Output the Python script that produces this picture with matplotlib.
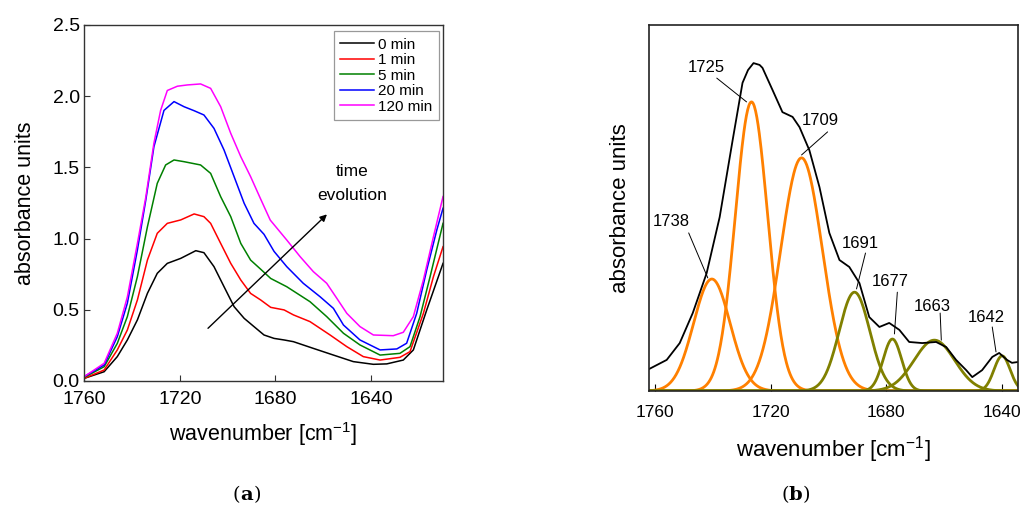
import numpy as np
import matplotlib
matplotlib.use("Agg")
import matplotlib.pyplot as plt

plt.rcParams['font.family'] = ['Liberation Sans', 'DejaVu Sans']
plt.rcParams['mathtext.default'] = 'regular'

# ---------------- panel (a) data ----------------
wn_0min = [1760, 1751.6, 1746.1, 1741.9, 1737.7, 1733.5, 1729.4, 1725.2, 1719.6, 1713.3,
           1709.9, 1705.7, 1701.5, 1697.3, 1693.1, 1689, 1684.8, 1680.6, 1676.4, 1672.5,
           1664.2, 1655.8, 1647.5, 1639.1, 1633.5, 1626.6, 1622.4, 1616.8, 1610]
abs_0min = [0.018, 0.065, 0.171, 0.288, 0.429, 0.616, 0.756, 0.826, 0.861, 0.915,
            0.901, 0.803, 0.662, 0.522, 0.44, 0.382, 0.323, 0.299, 0.288, 0.276,
            0.229, 0.182, 0.136, 0.117, 0.12, 0.147, 0.218, 0.499, 0.826]
wn_1min = [1760, 1751.6, 1746.1, 1741.9, 1737.7, 1733.5, 1729.4, 1725.2, 1719.6, 1714,
           1709.9, 1707.1, 1702.9, 1698.7, 1694.5, 1690.4, 1686.2, 1682, 1676.4, 1672.5,
           1665.6, 1657.2, 1650.2, 1643.3, 1636.3, 1628, 1623.8, 1618.2, 1614, 1610]
abs_1min = [0.018, 0.077, 0.218, 0.358, 0.569, 0.85, 1.037, 1.107, 1.131, 1.173,
            1.154, 1.107, 0.966, 0.826, 0.709, 0.615, 0.569, 0.517, 0.499, 0.464,
            0.417, 0.323, 0.241, 0.171, 0.147, 0.166, 0.206, 0.475, 0.733, 0.943]
wn_5min = [1760, 1751.6, 1746.1, 1741.9, 1737.7, 1733.5, 1729.4, 1725.9, 1722.4, 1718.2,
           1711.3, 1707.1, 1702.9, 1698.7, 1694.5, 1690.4, 1686.2, 1682, 1675.3, 1665.6,
           1658.6, 1651.6, 1644.7, 1636.3, 1628, 1623.8, 1619.6, 1615.4, 1610]
abs_5min = [0.025, 0.1, 0.264, 0.452, 0.733, 1.084, 1.388, 1.517, 1.552, 1.54,
            1.517, 1.458, 1.294, 1.154, 0.966, 0.849, 0.785, 0.72, 0.662, 0.557,
            0.452, 0.335, 0.253, 0.182, 0.194, 0.241, 0.452, 0.733, 1.107]
wn_20min = [1760, 1751.6, 1746.1, 1741.9, 1737.7, 1734.2, 1730.8, 1726.6, 1722.4, 1718.2,
            1714, 1709.9, 1705.7, 1701.5, 1697.3, 1693.1, 1689, 1684.8, 1680.6, 1675.3,
            1668.4, 1661.4, 1655.8, 1651.6, 1644.7, 1636.3, 1629.3, 1625.2, 1621, 1616.8,
            1612.6, 1610]
abs_20min = [0.03, 0.112, 0.311, 0.546, 0.92, 1.27, 1.645, 1.90, 1.962, 1.926,
             1.898, 1.868, 1.774, 1.622, 1.435, 1.248, 1.107, 1.03, 0.91, 0.803,
             0.686, 0.592, 0.51, 0.393, 0.288, 0.218, 0.225, 0.265, 0.475, 0.78,
             1.06, 1.213]
wn_120min = [1760, 1751.6, 1746.1, 1741.9, 1737.7, 1734.2, 1730.8, 1728, 1725.2, 1721,
             1716.8, 1711.3, 1707.1, 1702.9, 1698.7, 1694.5, 1690.4, 1686.4, 1682.2, 1675.3,
             1669.7, 1664.2, 1658.6, 1654.4, 1650.2, 1644.7, 1639.1, 1630.8, 1626.6, 1622.4,
             1618.2, 1614, 1610]
abs_120min = [0.03, 0.124, 0.335, 0.59, 0.966, 1.29, 1.67, 1.90, 2.04, 2.07,
              2.079, 2.086, 2.055, 1.926, 1.739, 1.575, 1.435, 1.285, 1.13, 0.99,
              0.873, 0.768, 0.686, 0.581, 0.475, 0.382, 0.323, 0.318, 0.342, 0.452,
              0.71, 1.013, 1.295]
series_labels = ['0 min', '1 min', '5 min', '20 min', '120 min']
series_colors = ['black', 'red', 'green', 'blue', 'magenta']

# ---------------- panel (b) data ----------------
wn_b = [1762, 1755.9, 1751.4, 1746.9, 1742.1, 1737.6, 1733.1, 1729.7, 1727.8, 1725.9,
        1723.8, 1722.8, 1719.3, 1715.9, 1712.4, 1710, 1706.6, 1703.1, 1699.7, 1696.2,
        1692.8, 1689.3, 1685.9, 1682.4, 1679, 1675.5, 1672.1, 1667.6, 1662.8,
        1659.3, 1655.9, 1652.4, 1650.3, 1646.9, 1643.4, 1641, 1638.3, 1636.6, 1634.8]
envelope = [0.060, 0.085, 0.131, 0.213, 0.322, 0.475, 0.686, 0.842, 0.877, 0.896,
            0.891, 0.883, 0.822, 0.762, 0.749, 0.721, 0.658, 0.557, 0.432, 0.358,
            0.339, 0.295, 0.202, 0.175, 0.186, 0.167, 0.134, 0.131, 0.134,
            0.120, 0.085, 0.057, 0.038, 0.057, 0.093, 0.104, 0.085, 0.077, 0.079]
peak_labels = ['1738', '1725', '1709', '1691', '1677', '1663', '1642']
peak_centers = [1740.3, 1726.6, 1709.3, 1691.0, 1677.9, 1663.4, 1640.0]
peak_heights = [0.306, 0.790, 0.637, 0.270, 0.142, 0.139, 0.096]
peak_sigmas = [6.3, 5.6, 7.2, 5.3, 3.2, 7.0, 2.8]
peak_colors = ['#FF8000', '#FF8000', '#FF8000', '#808000', '#808000', '#808000', '#808000']
label_text_xy = [(1754.5, 0.462), (1742.1, 0.883), (1702.8, 0.738), (1689.0, 0.402),
                 (1678.6, 0.298), (1664.1, 0.232), (1645.5, 0.202)]
leader_start = [(1748.3, 0.432), (1738.6, 0.855), (1700.3, 0.708), (1687.2, 0.377),
                (1676.2, 0.270), (1661.4, 0.213), (1643.4, 0.175)]
leader_end = [(1741.7, 0.309), (1728.3, 0.790), (1709.3, 0.645), (1690.3, 0.279),
              (1677.2, 0.156), (1661.0, 0.139), (1642.1, 0.107)]

fig = plt.figure(figsize=(10.26, 5.12), dpi=100)

# ---------------- panel (a) ----------------
ax1 = fig.add_axes([0.0819, 0.2559, 0.3499, 0.6953])
for wn, vals, lab, col in zip([wn_0min, wn_1min, wn_5min, wn_20min, wn_120min],
                              [abs_0min, abs_1min, abs_5min, abs_20min, abs_120min],
                              series_labels, series_colors):
    ax1.plot(wn, vals, color=col, lw=1.1, label=lab, solid_joinstyle='round')
ax1.set_xlim(1760, 1610)
ax1.set_ylim(0, 2.5)
ax1.set_xticks([1760, 1720, 1680, 1640])
ax1.set_yticks([0.0, 0.5, 1.0, 1.5, 2.0, 2.5])
ax1.set_yticklabels(['0.0', '0.5', '1.0', '1.5', '2.0', '2.5'])
ax1.tick_params(direction='in', length=4, labelsize=14, color='#333333')
ax1.tick_params(axis='x', pad=7)
ax1.tick_params(axis='y', pad=3)
for s in ax1.spines.values():
    s.set_color('#333333')
    s.set_linewidth(1.0)
ax1.set_xlabel('wavenumber [cm$^{-1}$]', fontsize=15.5, labelpad=9)
ax1.set_ylabel('absorbance units', fontsize=15.5, labelpad=12)
leg = ax1.legend(loc='upper right', bbox_to_anchor=(0.988, 0.982), fontsize=11,
                 handlelength=2.2, handletextpad=0.3, labelspacing=0.1,
                 borderpad=0.4, fancybox=False, framealpha=1, edgecolor='#999999',
                 borderaxespad=0.0)
leg.get_frame().set_linewidth(0.9)
ax1.annotate('', xy=(1658.5, 1.17), xytext=(1708.2, 0.37),
             arrowprops=dict(arrowstyle='-|>', color='black', lw=1.0,
                             mutation_scale=10, shrinkA=0, shrinkB=0))
ax1.text(1648, 1.47, 'time', ha='center', va='center', fontsize=12.5)
ax1.text(1648, 1.30, 'evolution', ha='center', va='center', fontsize=12.5)

# ---------------- panel (b) ----------------
ax2 = fig.add_axes([0.6326, 0.2363, 0.3596, 0.7148])
xg = np.linspace(1762, 1634.5, 600)
for c, h, s, col in zip(peak_centers, peak_heights, peak_sigmas, peak_colors):
    ax2.plot(xg, h * np.exp(-0.5 * ((xg - c) / s) ** 2), color=col, lw=2.0)
ax2.plot(wn_b, envelope, color='black', lw=1.3, solid_joinstyle='round')
for lab, txy, ls, le in zip(peak_labels, label_text_xy, leader_start, leader_end):
    ax2.text(txy[0], txy[1], lab, ha='center', va='center', fontsize=12)
    ax2.annotate('', xy=le, xytext=ls,
                 arrowprops=dict(arrowstyle='-', color='black', lw=0.7,
                                 shrinkA=0, shrinkB=0))
ax2.set_xlim(1762, 1634.5)
ax2.set_ylim(0, 1)
ax2.set_xticks([1760, 1720, 1680, 1640])
ax2.set_yticks([])
ax2.tick_params(axis='x', direction='in', length=5, labelsize=12.5, pad=10)
for s in ax2.spines.values():
    s.set_color('#222222')
    s.set_linewidth(1.2)
ax2.set_xlabel('wavenumber [cm$^{-1}$]', fontsize=16, labelpad=10)
ax2.set_ylabel('absorbance units', fontsize=16, labelpad=13)

# panel captions
fig.text(0.2339, 0.034, '(', fontsize=14, family='DejaVu Serif', ha='right', va='center')
fig.text(0.2339, 0.034, 'a', fontsize=14, family='DejaVu Serif', weight='bold', ha='left', va='center')
fig.text(0.2470, 0.034, ')', fontsize=14, family='DejaVu Serif', ha='left', va='center')
fig.text(0.7690, 0.034, '(', fontsize=14, family='DejaVu Serif', ha='right', va='center')
fig.text(0.7690, 0.034, 'b', fontsize=14, family='DejaVu Serif', weight='bold', ha='left', va='center')
fig.text(0.7825, 0.034, ')', fontsize=14, family='DejaVu Serif', ha='left', va='center')

fig.savefig('out.png', dpi=100)
